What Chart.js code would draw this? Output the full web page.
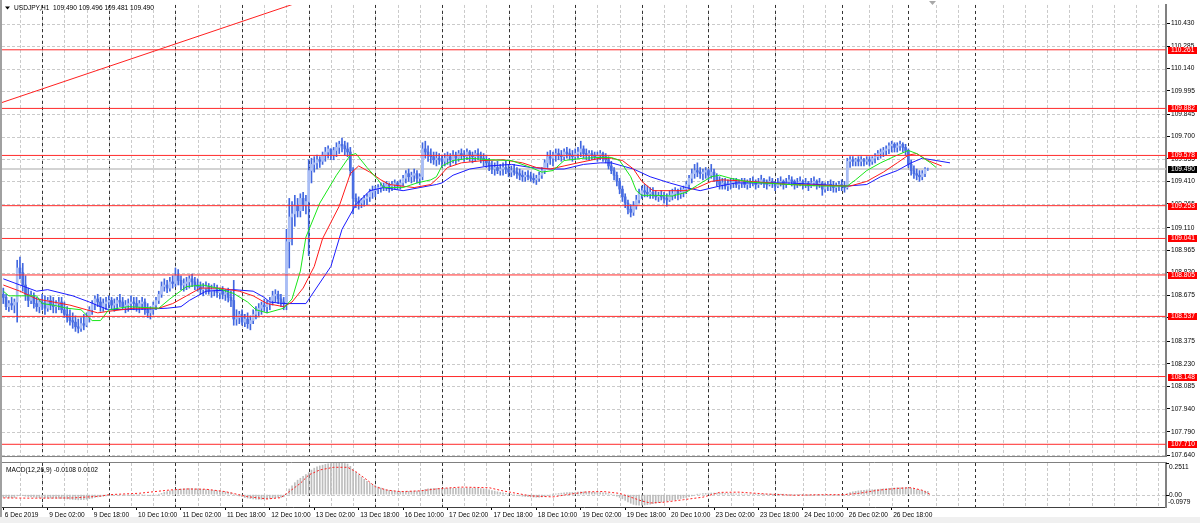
<!DOCTYPE html>
<html>
<head>
<meta charset="utf-8">
<title>USDJPY,H1</title>
<script src="https://cdn.jsdelivr.net/npm/chart.js@4.4.0/dist/chart.umd.min.js"></script>
<style>
  html, body { margin: 0; padding: 0; background: #fff; }
  #wrap { position: relative; width: 1200px; height: 523px; overflow: hidden; }
  #main { position: absolute; left: 0; top: 0; }
  #macd { position: absolute; left: 0; top: 461px; }
  #edge { position: absolute; left: 0; top: 0; width: 2px; height: 517px; background: #a0a0a0; }
  #foot { position: absolute; left: 0; top: 517px; width: 1200px; height: 6px; background: #f0f0f0; }
</style>
</head>
<body>
<div id="wrap">
  <canvas id="main" width="1200" height="461"></canvas>
  <canvas id="macd" width="1200" height="62"></canvas>
  <div id="edge"></div>
  <div id="foot"></div>
</div>
<script>
// values (bar index 0 = 6 Dec 2019 10:00)
var symbolTitle = 'USDJPY,H1  109.490 109.496 109.481 109.490';
var macdTitle = 'MACD(12,26,9) -0.0108 0.0102';

var timeLabels = ['6 Dec 2019', '9 Dec 02:00', '9 Dec 18:00', '10 Dec 10:00', '11 Dec 02:00',
  '11 Dec 18:00', '12 Dec 10:00', '13 Dec 02:00', '13 Dec 18:00', '16 Dec 10:00', '17 Dec 02:00',
  '17 Dec 18:00', '18 Dec 10:00', '19 Dec 02:00', '19 Dec 18:00', '20 Dec 10:00', '23 Dec 02:00',
  '23 Dec 18:00', '24 Dec 10:00', '26 Dec 02:00', '26 Dec 18:00'];
var labelBars = [0, 16, 32, 48, 64, 80, 96, 112, 128, 144, 160, 176, 192, 208, 224, 240, 256, 272, 288, 304, 320];
var dayStartBars = [14, 38, 62, 86, 110, 134, 158, 182, 206, 230, 254, 278, 302, 326, 350];

var priceTicks = [110.430, 110.285, 110.140, 109.995, 109.845, 109.700, 109.555, 109.410, 109.265,
  109.110, 108.965, 108.820, 108.675, 108.530, 108.375, 108.230, 108.085, 107.940, 107.790, 107.640];
var levelPrices = [110.261, 109.882, 109.578, 109.253, 109.041, 108.805, 108.537, 108.148, 107.710];
var bidPrice = 109.490;

var firstOpen = 108.68;
var barHigh = [
  108.72,108.68,108.64,108.66,108.65,108.90,108.92,108.88,108.80,108.72,
  108.70,108.69,108.66,108.65,108.68,108.67,108.66,108.67,108.66,108.64,
  108.66,108.66,108.63,108.60,108.58,108.56,108.54,108.52,108.53,108.55,
  108.56,108.60,108.64,108.67,108.68,108.66,108.65,108.66,108.67,108.66,
  108.65,108.66,108.68,108.66,108.64,108.65,108.67,108.66,108.66,108.64,
  108.66,108.65,108.62,108.60,108.63,108.66,108.70,108.76,108.78,108.77,
  108.79,108.80,108.85,108.84,108.80,108.78,108.79,108.80,108.81,108.79,
  108.78,108.76,108.75,108.76,108.75,108.74,108.75,108.74,108.72,108.73,
  108.71,108.72,108.70,108.77,108.58,108.57,108.58,108.55,108.56,108.54,
  108.58,108.60,108.62,108.63,108.65,108.64,108.66,108.70,108.71,108.70,
  108.68,108.66,109.10,109.30,109.28,109.32,109.30,109.33,109.34,109.32,
  109.55,109.56,109.57,109.58,109.57,109.60,109.63,109.64,109.62,109.63,
  109.66,109.67,109.69,109.67,109.66,109.63,109.50,109.33,109.31,109.30,
  109.32,109.33,109.36,109.38,109.38,109.39,109.40,109.40,109.41,109.40,
  109.41,109.42,109.41,109.42,109.45,109.48,109.49,109.47,109.49,109.48,
  109.46,109.66,109.67,109.64,109.62,109.60,109.60,109.59,109.58,109.59,
  109.60,109.59,109.61,109.60,109.61,109.62,109.61,109.62,109.61,109.60,
  109.61,109.62,109.60,109.59,109.58,109.56,109.54,109.53,109.54,109.52,
  109.53,109.54,109.52,109.51,109.52,109.50,109.49,109.48,109.47,109.48,
  109.47,109.46,109.45,109.47,109.50,109.55,109.60,109.61,109.60,109.62,
  109.62,109.61,109.62,109.63,109.62,109.61,109.62,109.63,109.67,109.64,
  109.62,109.61,109.61,109.60,109.60,109.61,109.60,109.59,109.57,109.54,
  109.50,109.47,109.43,109.38,109.33,109.29,109.26,109.28,109.32,109.36,
  109.38,109.39,109.38,109.37,109.37,109.35,109.34,109.35,109.34,109.33,
  109.35,109.36,109.37,109.36,109.37,109.38,109.41,109.45,109.49,109.52,
  109.53,109.50,109.49,109.50,109.49,109.52,109.49,109.46,109.44,109.43,
  109.43,109.42,109.43,109.43,109.43,109.42,109.43,109.43,109.42,109.43,
  109.44,109.42,109.43,109.45,109.43,109.42,109.44,109.43,109.41,109.43,
  109.44,109.42,109.43,109.45,109.44,109.42,109.43,109.44,109.42,109.43,
  109.41,109.43,109.44,109.42,109.43,109.41,109.40,109.41,109.42,109.41,
  109.40,109.41,109.42,109.41,109.56,109.57,109.57,109.56,109.57,109.57,
  109.56,109.57,109.57,109.57,109.59,109.61,109.62,109.63,109.64,109.66,
  109.67,109.66,109.66,109.67,109.66,109.65,109.62,109.55,109.51,109.49,
  109.48,109.48,109.50,109.496
];
var barLow = [
  108.62,108.58,108.57,108.58,108.56,108.50,108.78,108.70,108.64,108.60,
  108.62,108.59,108.57,108.56,108.58,108.55,108.57,108.58,108.56,108.56,
  108.58,108.56,108.53,108.50,108.48,108.46,108.44,108.43,108.44,108.45,
  108.47,108.50,108.55,108.58,108.60,108.57,108.57,108.58,108.59,108.58,
  108.57,108.58,108.60,108.58,108.56,108.57,108.58,108.58,108.57,108.56,
  108.58,108.55,108.53,108.52,108.55,108.58,108.62,108.66,108.70,108.69,
  108.70,108.72,108.73,108.74,108.71,108.70,108.71,108.72,108.73,108.71,
  108.70,108.68,108.67,108.68,108.68,108.66,108.67,108.66,108.65,108.65,
  108.64,108.63,108.60,108.48,108.48,108.49,108.48,108.47,108.46,108.45,
  108.49,108.52,108.54,108.55,108.57,108.56,108.58,108.61,108.63,108.62,
  108.60,108.58,108.58,108.85,109.00,109.12,109.18,109.18,109.22,109.20,
  108.93,109.40,109.47,109.49,109.50,109.52,109.54,109.56,109.55,109.55,
  109.57,109.59,109.60,109.58,109.57,109.45,109.20,109.24,109.23,109.24,
  109.25,109.26,109.28,109.30,109.31,109.33,109.34,109.35,109.35,109.34,
  109.35,109.36,109.36,109.36,109.38,109.40,109.41,109.40,109.41,109.40,
  109.39,109.42,109.56,109.54,109.53,109.52,109.51,109.52,109.50,109.51,
  109.52,109.51,109.53,109.52,109.54,109.55,109.54,109.55,109.54,109.53,
  109.54,109.55,109.53,109.51,109.50,109.48,109.46,109.45,109.46,109.45,
  109.45,109.46,109.44,109.44,109.45,109.43,109.42,109.41,109.41,109.42,
  109.41,109.40,109.39,109.41,109.43,109.46,109.50,109.52,109.51,109.54,
  109.55,109.54,109.55,109.56,109.55,109.54,109.55,109.56,109.57,109.56,
  109.55,109.55,109.55,109.55,109.54,109.55,109.54,109.53,109.49,109.46,
  109.42,109.38,109.33,109.28,109.24,109.20,109.18,109.19,109.23,109.27,
  109.30,109.31,109.31,109.30,109.30,109.29,109.28,109.29,109.27,109.25,
  109.28,109.29,109.30,109.29,109.30,109.31,109.33,109.36,109.40,109.43,
  109.44,109.43,109.42,109.43,109.42,109.43,109.41,109.38,109.36,109.36,
  109.36,109.35,109.36,109.37,109.37,109.36,109.37,109.37,109.36,109.37,
  109.38,109.36,109.37,109.39,109.37,109.36,109.38,109.37,109.35,109.37,
  109.38,109.36,109.37,109.39,109.38,109.36,109.37,109.38,109.36,109.37,
  109.35,109.37,109.38,109.36,109.37,109.32,109.34,109.35,109.35,109.34,
  109.34,109.35,109.35,109.34,109.36,109.50,109.51,109.51,109.51,109.51,
  109.51,109.52,109.51,109.52,109.53,109.55,109.56,109.57,109.58,109.59,
  109.60,109.60,109.60,109.61,109.60,109.58,109.50,109.45,109.43,109.42,
  109.41,109.42,109.44,109.481
];
var barClose = [
  108.66,108.60,108.62,108.61,108.63,108.85,108.82,108.74,108.68,108.64,
  108.67,108.62,108.60,108.63,108.62,108.59,108.64,108.61,108.60,108.62,
  108.63,108.58,108.55,108.53,108.51,108.50,108.47,108.46,108.49,108.48,
  108.53,108.58,108.62,108.65,108.63,108.60,108.62,108.63,108.64,108.61,
  108.62,108.64,108.63,108.60,108.61,108.62,108.63,108.62,108.60,108.62,
  108.63,108.58,108.56,108.58,108.61,108.64,108.68,108.73,108.74,108.72,
  108.76,108.75,108.80,108.77,108.74,108.75,108.76,108.78,108.76,108.74,
  108.73,108.71,108.72,108.73,108.70,108.71,108.72,108.69,108.70,108.68,
  108.69,108.66,108.64,108.52,108.53,108.55,108.50,108.52,108.49,108.51,
  108.55,108.57,108.59,108.61,108.60,108.62,108.64,108.67,108.68,108.65,
  108.63,108.62,109.02,109.18,109.20,109.25,109.22,109.30,109.26,109.28,
  109.48,109.52,109.53,109.55,109.54,109.58,109.60,109.62,109.58,109.61,
  109.63,109.65,109.64,109.62,109.60,109.48,109.30,109.28,109.27,109.29,
  109.30,109.31,109.34,109.35,109.36,109.37,109.38,109.37,109.39,109.38,
  109.39,109.40,109.38,109.40,109.43,109.46,109.44,109.45,109.46,109.43,
  109.44,109.62,109.60,109.58,109.57,109.55,109.56,109.55,109.54,109.56,
  109.57,109.55,109.58,109.56,109.59,109.58,109.57,109.60,109.58,109.57,
  109.59,109.58,109.56,109.55,109.53,109.51,109.49,109.50,109.48,109.49,
  109.50,109.49,109.47,109.48,109.47,109.46,109.45,109.44,109.45,109.44,
  109.43,109.42,109.43,109.45,109.48,109.53,109.57,109.56,109.58,109.59,
  109.58,109.57,109.60,109.59,109.58,109.57,109.59,109.60,109.62,109.59,
  109.58,109.59,109.58,109.57,109.58,109.59,109.57,109.55,109.51,109.48,
  109.45,109.41,109.36,109.31,109.27,109.23,109.21,109.25,109.29,109.33,
  109.35,109.34,109.33,109.34,109.32,109.31,109.32,109.31,109.30,109.29,
  109.32,109.33,109.35,109.33,109.34,109.36,109.39,109.43,109.46,109.48,
  109.47,109.46,109.47,109.48,109.45,109.47,109.44,109.41,109.39,109.40,
  109.38,109.39,109.40,109.41,109.39,109.40,109.41,109.39,109.40,109.40,
  109.41,109.39,109.40,109.42,109.40,109.39,109.41,109.40,109.38,109.40,
  109.41,109.39,109.40,109.42,109.41,109.39,109.40,109.41,109.39,109.40,
  109.38,109.40,109.41,109.39,109.40,109.36,109.38,109.39,109.38,109.37,
  109.38,109.39,109.38,109.37,109.54,109.55,109.54,109.55,109.54,109.55,
  109.54,109.55,109.54,109.56,109.57,109.59,109.60,109.61,109.62,109.64,
  109.65,109.63,109.64,109.65,109.63,109.61,109.52,109.48,109.46,109.45,
  109.44,109.46,109.49,109.49
];

// Alligator lines as [bar, price]; they run past the last bar because of their shift
var jawPts = [[0,108.78],[12,108.70],[16,108.71],[25,108.67],[31,108.63],[35,108.60],[38,108.58],
  [53,108.585],[59,108.59],[64,108.60],[67,108.64],[73,108.70],[83,108.71],[90,108.70],[94,108.66],
  [96,108.63],[101,108.62],[109,108.62],[118,108.86],[122,109.10],[127,109.26],[132,109.35],
  [137,109.37],[144,109.35],[156,109.39],[158,109.40],[162,109.45],[168,109.49],[175,109.51],
  [183,109.52],[190,109.50],[197,109.49],[202,109.49],[209,109.52],[215,109.53],[219,109.53],
  [227,109.49],[233,109.44],[240,109.40],[246,109.37],[251,109.35],[258,109.38],[264,109.40],
  [283,109.40],[304,109.38],[311,109.39],[316,109.44],[322,109.48],[327,109.53],[331,109.56],
  [336,109.545],[341,109.53]];
var teethPts = [[0,108.74],[6,108.70],[12,108.65],[24,108.61],[30,108.58],[34,108.56],[38,108.57],
  [47,108.59],[56,108.59],[61,108.62],[66,108.67],[71,108.72],[78,108.72],[85,108.70],[90,108.67],
  [95,108.62],[101,108.60],[104,108.63],[108,108.72],[112,108.86],[115,109.04],[121,109.25],
  [125,109.46],[128,109.51],[132,109.47],[136,109.42],[139,109.39],[148,109.37],[154,109.39],
  [157,109.44],[160,109.50],[165,109.53],[173,109.545],[180,109.55],[187,109.53],[192,109.50],
  [197,109.49],[202,109.51],[207,109.53],[215,109.56],[219,109.56],[223,109.545],[227,109.49],
  [230,109.41],[234,109.35],[246,109.35],[250,109.37],[255,109.41],[259,109.42],[269,109.41],
  [283,109.39],[295,109.385],[305,109.38],[311,109.41],[317,109.47],[322,109.53],[326,109.58],
  [329,109.59],[333,109.545],[338,109.51]];
var lipsPts = [[0,108.70],[2,108.67],[9,108.67],[12,108.67],[14,108.62],[18,108.61],[23,108.59],
  [28,108.58],[32,108.51],[35,108.51],[38,108.58],[45,108.60],[56,108.59],[60,108.65],[66,108.73],
  [72,108.74],[77,108.72],[83,108.685],[88,108.63],[91,108.58],[95,108.56],[101,108.59],[104,108.65],
  [107,108.83],[109,109.05],[114,109.27],[120,109.45],[125,109.58],[127,109.59],[131,109.50],
  [135,109.42],[137,109.37],[144,109.37],[149,109.40],[154,109.42],[156,109.44],[158,109.51],
  [162,109.545],[168,109.56],[175,109.55],[183,109.545],[190,109.50],[194,109.47],[198,109.48],
  [202,109.545],[209,109.56],[215,109.565],[219,109.565],[222,109.545],[226,109.44],[228,109.35],
  [230,109.32],[235,109.32],[241,109.315],[246,109.34],[250,109.385],[255,109.44],[258,109.45],
  [262,109.43],[269,109.405],[283,109.39],[295,109.38],[304,109.38],[307,109.42],[311,109.48],
  [316,109.53],[322,109.58],[326,109.61],[329,109.59],[334,109.53],[336,109.50]];
var trendPts = [[-0.5, 109.92], [110, 110.59]];

var macdMain = [
  -0.020,-0.022,-0.025,-0.024,-0.023,-0.010,-0.005,-0.008,-0.012,-0.015,
  -0.018,-0.020,-0.022,-0.024,-0.025,-0.026,-0.027,-0.027,-0.028,-0.028,
  -0.029,-0.030,-0.032,-0.034,-0.036,-0.038,-0.040,-0.041,-0.040,-0.039,
  -0.036,-0.032,-0.027,-0.022,-0.018,-0.015,-0.012,-0.010,-0.008,-0.006,
  -0.005,-0.004,-0.003,-0.003,-0.003,-0.002,-0.002,-0.001,-0.001,0.000,
  -0.001,-0.003,-0.006,-0.007,-0.006,-0.003,0.002,0.010,0.018,0.024,
  0.030,0.035,0.040,0.043,0.045,0.046,0.047,0.048,0.048,0.047,
  0.046,0.044,0.042,0.040,0.038,0.036,0.034,0.031,0.028,0.025,
  0.022,0.018,0.014,0.004,-0.004,-0.010,-0.016,-0.022,-0.027,-0.031,
  -0.034,-0.036,-0.037,-0.037,-0.036,-0.034,-0.031,-0.027,-0.024,-0.021,
  -0.019,-0.017,0.010,0.045,0.070,0.095,0.115,0.130,0.145,0.160,
  0.175,0.195,0.210,0.220,0.228,0.234,0.240,0.244,0.247,0.249,
  0.250,0.250,0.249,0.247,0.243,0.225,0.200,0.178,0.158,0.140,
  0.122,0.106,0.092,0.080,0.069,0.060,0.052,0.045,0.039,0.034,
  0.030,0.027,0.025,0.024,0.024,0.025,0.026,0.027,0.028,0.028,
  0.028,0.035,0.042,0.046,0.048,0.049,0.049,0.049,0.049,0.049,
  0.050,0.050,0.051,0.051,0.051,0.052,0.052,0.052,0.052,0.051,
  0.051,0.050,0.048,0.046,0.043,0.038,0.033,0.028,0.023,0.018,
  0.014,0.010,0.006,0.002,-0.002,-0.006,-0.009,-0.012,-0.014,-0.016,
  -0.018,-0.019,-0.020,-0.020,-0.018,-0.014,-0.008,-0.003,0.002,0.006,
  0.009,0.012,0.014,0.016,0.017,0.018,0.019,0.020,0.022,0.022,
  0.021,0.020,0.019,0.018,0.017,0.016,0.014,0.012,0.008,0.003,
  -0.004,-0.012,-0.022,-0.033,-0.045,-0.057,-0.068,-0.077,-0.082,-0.084,
  -0.084,-0.082,-0.079,-0.075,-0.071,-0.067,-0.063,-0.059,-0.055,-0.051,
  -0.047,-0.043,-0.039,-0.035,-0.031,-0.027,-0.022,-0.016,-0.010,-0.004,
  0.001,0.005,0.008,0.010,0.012,0.013,0.013,0.012,0.011,0.010,
  0.009,0.008,0.007,0.007,0.006,0.006,0.005,0.005,0.004,0.004,
  0.003,0.003,0.003,0.002,0.002,0.002,0.002,0.001,0.001,0.001,
  0.001,0.001,0.000,0.000,0.000,0.000,0.000,0.000,0.000,-0.001,
  -0.001,-0.001,-0.001,-0.002,-0.002,-0.003,-0.003,-0.003,-0.003,-0.003,
  -0.003,-0.003,-0.003,-0.003,0.008,0.016,0.022,0.026,0.030,0.033,
  0.035,0.037,0.038,0.039,0.040,0.042,0.044,0.046,0.048,0.050,
  0.052,0.053,0.054,0.055,0.055,0.055,0.054,0.050,0.045,0.040,
  0.036,0.032,0.029,0.026
];
var macdSignal = [[0,-0.026],[12,-0.028],[25,-0.026],[35,-0.012],[38,0.0],[49,0.011],[60,0.037],
  [66,0.045],[73,0.043],[80,0.024],[88,-0.016],[95,-0.034],[100,-0.024],[103,0.024],[107,0.090],
  [110,0.156],[114,0.196],[119,0.217],[124,0.217],[127,0.182],[131,0.117],[134,0.063],[138,0.037],
  [143,0.024],[150,0.030],[158,0.050],[165,0.060],[175,0.055],[180,0.030],[185,0.010],[190,-0.010],
  [198,-0.018],[203,0.0],[210,0.022],[216,0.025],[222,0.010],[226,-0.020],[230,-0.050],[233,-0.066],
  [238,-0.060],[245,-0.040],[252,-0.020],[258,0.018],[265,0.020],[275,0.005],[285,-0.005],[295,0.0],
  [303,0.0],[308,0.010],[315,0.035],[322,0.050],[327,0.055],[331,0.035],[334,0.0]];
var macdLabels = [0.2511, 0, -0.0979];

// ---------------------------------------------------------------------
var X_MIN = -0.47, X_MAX = 418.8;
var FONT = '6.6px "Liberation Sans", Arial, sans-serif';

// light grid every 8 bars; after the holiday gap the phase moves
var gridBars = [];
for (var b = 6; b <= 278; b += 8) gridBars.push(b);
for (var b2 = 288; b2 <= 418; b2 += 8) {
  if (dayStartBars.indexOf(b2 - 2) < 0) gridBars.push(b2);
}

var barOpen = barClose.map(function(c, i) { return i === 0 ? firstOpen : barClose[i - 1]; });
var toXY = function(p) { return { x: p[0], y: p[1] }; };

Chart.defaults.font.family = '"Liberation Sans", Arial, sans-serif';
Chart.defaults.font.size = 6.6;
Chart.defaults.color = '#000';

function vline(ctx, px, top, bottom) { ctx.beginPath(); ctx.moveTo(px, top); ctx.lineTo(px, bottom); ctx.stroke(); }
function hline(ctx, py, left, right) { ctx.beginPath(); ctx.moveTo(left, py); ctx.lineTo(right, py); ctx.stroke(); }

var gridPlugin = {
  id: 'mtGrid',
  beforeDatasetsDraw: function(chart, args, opts) {
    var ctx = chart.ctx, a = chart.chartArea, x = chart.scales.x, y = chart.scales.y;
    ctx.save();
    ctx.lineWidth = 1;
    ctx.setLineDash([3, 2]);
    ctx.strokeStyle = '#cacaca';
    gridBars.forEach(function(g) { vline(ctx, Math.round(x.getPixelForValue(g)) + 0.5, a.top, a.bottom); });
    (opts.rows || []).forEach(function(v) { hline(ctx, Math.round(y.getPixelForValue(v)) + 0.5, a.left, a.right); });
    ctx.strokeStyle = '#333';
    ctx.setLineDash([3, 3]);
    dayStartBars.forEach(function(g) { vline(ctx, Math.round(x.getPixelForValue(g)) + 0.5, a.top, a.bottom); });
    ctx.restore();
  }
};

var mainOverlay = {
  id: 'mainOverlay',
  beforeDatasetsDraw: function(chart) {
    var ctx = chart.ctx, a = chart.chartArea, y = chart.scales.y;
    ctx.save();
    ctx.strokeStyle = '#c4c4c4';
    ctx.lineWidth = 1.5;
    hline(ctx, y.getPixelForValue(bidPrice), a.left, a.right);
    ctx.restore();
  },
  afterDatasetsDraw: function(chart) {
    var ctx = chart.ctx, a = chart.chartArea, y = chart.scales.y;
    ctx.save();
    ctx.strokeStyle = '#ff2a2a';
    ctx.lineWidth = 1;
    levelPrices.forEach(function(v) { hline(ctx, y.getPixelForValue(v), a.left, a.right); });
    ctx.strokeStyle = '#808080';
    hline(ctx, a.bottom + 0.5, 0, a.right);
    ctx.restore();
  },
  afterDraw: function(chart) {
    var ctx = chart.ctx, a = chart.chartArea, y = chart.scales.y;
    ctx.save();
    ctx.font = FONT;
    ctx.textBaseline = 'middle';
    ctx.textAlign = 'left';
    levelPrices.forEach(function(v) {
      var py = Math.round(y.getPixelForValue(v));
      ctx.fillStyle = '#ff0000';
      ctx.fillRect(a.right + 2, py - 3, 29, 7);
      ctx.fillStyle = '#fff';
      ctx.fillText(v.toFixed(3), a.right + 5, py + 0.5);
    });
    var by = Math.round(y.getPixelForValue(bidPrice));
    ctx.fillStyle = '#000';
    ctx.fillRect(a.right + 2, by - 3, 29, 7);
    ctx.fillStyle = '#fff';
    ctx.fillText(bidPrice.toFixed(3), a.right + 5, by + 0.5);

    // symbol caption
    ctx.fillStyle = '#000';
    ctx.beginPath(); ctx.moveTo(5, 6.5); ctx.lineTo(10, 6.5); ctx.lineTo(7.5, 9.5); ctx.closePath(); ctx.fill();
    ctx.fillText(symbolTitle, 14, 8.5);

    // chart shift marker
    ctx.fillStyle = '#a8a8a8';
    ctx.beginPath(); ctx.moveTo(929, 1); ctx.lineTo(936, 1); ctx.lineTo(932.5, 5); ctx.closePath(); ctx.fill();
    ctx.restore();
  }
};

var macdOverlay = {
  id: 'macdOverlay',
  afterDraw: function(chart) {
    var ctx = chart.ctx, a = chart.chartArea, y = chart.scales.y;
    ctx.save();
    ctx.strokeStyle = '#808080';
    ctx.lineWidth = 1;
    hline(ctx, a.top - 0.5, 0, a.right);
    ctx.font = FONT;
    ctx.fillStyle = '#000';
    ctx.textBaseline = 'middle';
    ctx.textAlign = 'left';
    ctx.fillText(macdTitle, 6, 9);
    var top = y.getPixelForValue(macdLabels[0]), zero = y.getPixelForValue(macdLabels[1]), bot = y.getPixelForValue(macdLabels[2]);
    ctx.fillText(macdLabels[0].toFixed(4), a.right + 3, top + 4.5);
    ctx.fillText('0.00', a.right + 3, zero + 0.5);
    ctx.fillText(macdLabels[2].toFixed(4), a.right + 2, bot - 4.5);
    ctx.strokeStyle = '#000';
    hline(ctx, Math.round(top) + 0.5, a.right, a.right + 3);
    hline(ctx, Math.round(zero) + 0.5, a.right, a.right + 3);
    ctx.restore();
  }
};

// price panel
new Chart(document.getElementById('main'), {
  type: 'bar',
  data: {
    datasets: [
      { type: 'line', label: 'trend', data: trendPts.map(toXY), borderColor: '#ff2020', borderWidth: 1,
        pointRadius: 0, order: 0 },
      { type: 'line', label: 'lips', data: lipsPts.map(toXY), borderColor: '#19e619', borderWidth: 1,
        pointRadius: 0, order: 1 },
      { type: 'line', label: 'teeth', data: teethPts.map(toXY), borderColor: '#ff1a1a', borderWidth: 1,
        pointRadius: 0, order: 2 },
      { type: 'line', label: 'jaw', data: jawPts.map(toXY), borderColor: '#1a1aff', borderWidth: 1,
        pointRadius: 0, order: 3 },
      { label: 'body', data: barClose.map(function(c, i) { return { x: i, y: [barOpen[i], c] }; }),
        backgroundColor: barClose.map(function(c, i) { return c >= barOpen[i] ? '#a9bdf5' : '#4a6ee2'; }),
        barThickness: 2, grouped: false, order: 4 },
      { label: 'wick', data: barHigh.map(function(h, i) { return { x: i, y: [barLow[i], h] }; }),
        backgroundColor: '#4167e0', barThickness: 1, grouped: false, order: 5 }
    ]
  },
  options: {
    responsive: false,
    devicePixelRatio: 1,
    animation: false,
    events: [],
    layout: { padding: { left: 2, top: 2, bottom: 1, right: 0 } },
    plugins: { legend: { display: false }, tooltip: { enabled: false }, mtGrid: { rows: priceTicks } },
    scales: {
      x: { type: 'linear', min: X_MIN, max: X_MAX, offset: false, display: false, grid: { offset: false } },
      y: {
        position: 'right', min: 107.634, max: 110.551,
        afterBuildTicks: function(s) { s.ticks = priceTicks.map(function(v) { return { value: v }; }); },
        afterFit: function(s) { s.width = 34; },
        ticks: { callback: function(v) { return v.toFixed(3); }, padding: 1, autoSkip: false },
        grid: { drawOnChartArea: false, tickLength: 4, color: '#000' },
        border: { color: '#808080', width: 2 }
      }
    }
  },
  plugins: [gridPlugin, mainOverlay]
});

// MACD panel
new Chart(document.getElementById('macd'), {
  type: 'bar',
  data: {
    datasets: [
      { type: 'line', label: 'signal', data: macdSignal.map(toXY), borderColor: '#ff2020', borderWidth: 1,
        borderDash: [2, 2], pointRadius: 0, order: 0 },
      { label: 'macd', data: macdMain.map(function(v, i) { return { x: i, y: v }; }),
        backgroundColor: '#bdbdbd', barThickness: 1, grouped: false, order: 1 }
    ]
  },
  options: {
    responsive: false,
    devicePixelRatio: 1,
    animation: false,
    events: [],
    layout: { padding: { left: 2, top: 2, bottom: 6, right: 0 } },
    plugins: { legend: { display: false }, tooltip: { enabled: false }, mtGrid: { rows: [0] } },
    scales: {
      x: {
        type: 'linear', min: X_MIN, max: X_MAX, offset: false, position: 'bottom',
        afterBuildTicks: function(s) { s.ticks = labelBars.map(function(v) { return { value: v }; }); },
        afterFit: function(s) { s.height = 10; },
        ticks: { autoSkip: false, maxRotation: 0, align: 'start', labelOffset: 1.5, padding: 1,
          callback: function(v, i) { return timeLabels[i]; } },
        grid: { drawOnChartArea: false, tickLength: 3, color: '#000', offset: false },
        border: { color: '#404040', width: 1 }
      },
      y: {
        position: 'right', min: -0.0979, max: 0.2511,
        afterFit: function(s) { s.width = 34; },
        ticks: { display: false },
        grid: { drawOnChartArea: false, drawTicks: false },
        border: { color: '#808080', width: 2 }
      }
    }
  },
  plugins: [gridPlugin, macdOverlay]
});
</script>
</body>
</html>
